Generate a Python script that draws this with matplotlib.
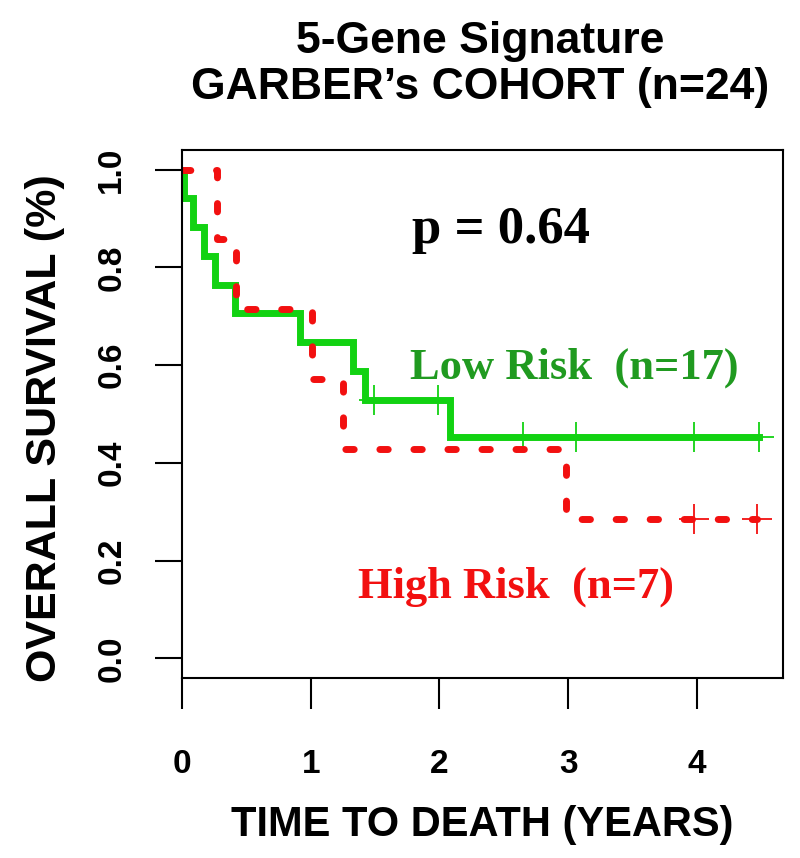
import numpy as np
import matplotlib
matplotlib.use("Agg")
import matplotlib.pyplot as plt

# survival data (time in years, 1 = death, 0 = censored)
low_time = [0.016, 0.088, 0.171, 0.26, 0.414, 0.92, 1.33, 1.42, 1.49, 1.99,
            2.08, 2.65, 3.06, 3.06, 3.98, 4.48, 4.48]
low_event = [1, 1, 1, 1, 1, 1, 1, 1, 0, 0,
             1, 0, 0, 0, 0, 0, 0]
high_time = [0.27, 0.42, 1.007, 1.248, 2.98, 3.98, 4.47]
high_event = [1, 1, 1, 1, 1, 0, 0]

x_ticks = [0, 1, 2, 3, 4]
y_ticks = [0.0, 0.2, 0.4, 0.6, 0.8, 1.0]
y_tick_labels = ["0.0", "0.2", "0.4", "0.6", "0.8", "1.0"]

title_lines = ["5-Gene Signature", "GARBER\u2019s COHORT (n=24)"]
p_text = "p = 0.64"
low_label = "Low Risk  (n=17)"
high_label = "High Risk  (n=7)"

GREEN = "#12d212"
RED = "#f21010"
SANS = "Liberation Sans"
SERIF = "Liberation Serif"


def km_curve(times, events):
    t = np.asarray(times, float)
    e = np.asarray(events, int)
    xs, ys = [0.0], [1.0]
    cx, cy = [], []
    s = 1.0
    for ut in np.unique(t):
        at_risk = np.sum(t >= ut)
        d = np.sum((t == ut) & (e == 1))
        c = np.sum((t == ut) & (e == 0))
        if d > 0:
            s *= 1 - d / at_risk
            xs.append(ut)
            ys.append(s)
        if c > 0:
            cx.append(ut)
            cy.append(s)
    xs.append(t.max())
    ys.append(s)
    return xs, ys, cx, cy


fig = plt.figure(figsize=(8, 8.58), dpi=100)
ax = fig.add_axes([0.2275, 0.2098, 0.7513, 0.6154])

# low risk
xs, ys, cx, cy = km_curve(low_time, low_event)
ax.plot(xs, ys, drawstyle="steps-post", color=GREEN, lw=5,
        solid_joinstyle="miter")
ax.plot(cx, cy, ls="none", marker="+", ms=21, mew=1.3, color=GREEN)

# high risk
xs, ys, cx, cy = km_curve(high_time, high_event)
ax.plot(xs, ys, drawstyle="steps-post", color=RED, lw=5,
        dashes=(1.2, 3.7), dash_capstyle="round")
ax.plot(cx, cy, ls="none", marker="+", ms=21, mew=1.3, color=RED)

ax.set_xlim(0, 4.67)
ax.set_ylim(-0.04, 1.04)

ax.set_xticks(x_ticks)
ax.set_xticklabels([str(v) for v in x_ticks], fontfamily=SANS,
                   fontweight="bold", fontsize=24)
ax.set_yticks(y_ticks)
ax.set_yticklabels(y_tick_labels, fontfamily=SANS, fontweight="bold",
                   fontsize=24, rotation=90, va="center")
ax.tick_params(axis="x", length=22, width=1.5, pad=29)
ax.tick_params(axis="y", length=19.5, width=1.5, pad=20)
for sp in ax.spines.values():
    sp.set_linewidth(1.5)

# annotations
ax.text(2.48, 0.85, p_text, ha="center", va="baseline", fontfamily=SERIF,
        fontweight="bold", fontsize=38, color="black")
ax.text(1.77, 0.573, low_label, ha="left", va="baseline", fontfamily=SERIF,
        fontweight="bold", fontsize=32, color="#209a20")
ax.text(1.367, 0.124, high_label, ha="left", va="baseline", fontfamily=SERIF,
        fontweight="bold", fontsize=32, color=RED)

# titles and axis labels
fig.text(0.6, 1 - 53 / 858, title_lines[0], ha="center", va="baseline",
         fontfamily=SANS, fontweight="bold", fontsize=32)
fig.text(0.6, 1 - 99 / 858, title_lines[1], ha="center", va="baseline",
         fontfamily=SANS, fontweight="bold", fontsize=32)
fig.text(0.603, 1 - 836 / 858, "TIME TO DEATH (YEARS)", ha="center",
         va="baseline", fontfamily=SANS, fontweight="bold", fontsize=30)
fig.text(45 / 800, 1 - 428 / 858, "OVERALL SURVIVAL (%)", rotation=90,
         ha="center", va="center", fontfamily=SANS, fontweight="bold",
         fontsize=31)

fig.savefig("out.png", dpi=100)
